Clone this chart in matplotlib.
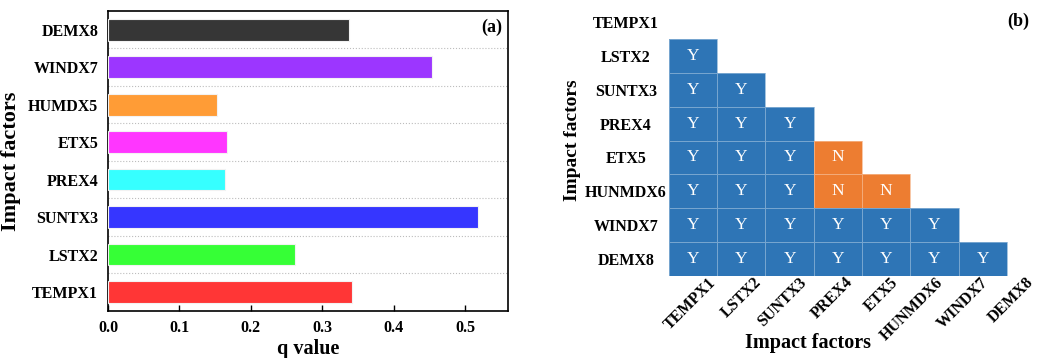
import matplotlib.pyplot as plt
import numpy as np
from matplotlib.colors import ListedColormap

plt.rcParams["font.family"] = ["Liberation Serif", "DejaVu Serif"]
plt.rcParams["font.weight"] = "bold"

# (a) q values of single factors, bottom to top
bar_labels = ["TEMPX1", "LSTX2", "SUNTX3", "PREX4", "ETX5", "HUMDX5", "WINDX7", "DEMX8"]
q_values = [0.341, 0.262, 0.518, 0.164, 0.167, 0.152, 0.453, 0.338]
bar_colors = ["#FF3636", "#36FF36", "#3636FF", "#36FFFF", "#FF36FF", "#FF9C36", "#9C36FF", "#363636"]

# (b) interaction significance, lower triangle (row factor vs column factor)
factors = ["TEMPX1", "LSTX2", "SUNTX3", "PREX4", "ETX5", "HUNMDX6", "WINDX7", "DEMX8"]
pairs = [
    [],
    ["Y"],
    ["Y", "Y"],
    ["Y", "Y", "Y"],
    ["Y", "Y", "Y", "N"],
    ["Y", "Y", "Y", "N", "N"],
    ["Y", "Y", "Y", "Y", "Y", "Y"],
    ["Y", "Y", "Y", "Y", "Y", "Y", "Y"],
]

fig = plt.figure(figsize=(10.38, 3.58), dpi=100)

# ---- panel (a)
ax = fig.add_axes([0.1040, 0.1321, 0.3854, 0.8372])
y = np.arange(len(bar_labels))
ax.barh(y, q_values, height=0.58, color=bar_colors, edgecolor="#f2f2f2", linewidth=0.8, zorder=3)
for k in range(len(bar_labels) - 1):
    ax.axhline(k + 0.5, color="#bdbdbd", linestyle=":", linewidth=0.8, zorder=1)
ax.set_xlim(0, 0.56)
ax.set_ylim(-0.5, 7.5)
ax.set_xticks([0.0, 0.1, 0.2, 0.3, 0.4, 0.5])
ax.set_xticklabels(["0.0", "0.1", "0.2", "0.3", "0.4", "0.5"])
ax.set_yticks(y)
ax.set_yticklabels(bar_labels)
ax.tick_params(axis="x", direction="in", length=4, width=1.0, labelsize=11.5, pad=7)
ax.tick_params(axis="y", length=0, labelsize=11.5, pad=7)
for s in ax.spines.values():
    s.set_linewidth(1.2)
ax.set_xlabel("q value", fontsize=14.5, fontweight="bold", labelpad=2)
ax.set_ylabel("Impact factors", fontsize=16, fontweight="bold", labelpad=5)
ax.text(0.985, 0.975, "(a)", transform=ax.transAxes, ha="right", va="top",
        fontsize=13, fontweight="bold")

# ---- panel (b)
n = len(factors)
grid = np.full((n, n), np.nan)
for i, row in enumerate(pairs):
    for j, v in enumerate(row):
        grid[i, j] = 1.0 if v == "Y" else 0.0

bx = fig.add_axes([0.6445, 0.2291, 0.3719, 0.7567])
cmap = ListedColormap(["#ED7D31", "#2E75B6"])
bx.pcolormesh(np.arange(n + 1) - 0.5, np.arange(n + 1) - 0.5, np.ma.masked_invalid(grid),
              cmap=cmap, vmin=0, vmax=1, edgecolors=(1, 1, 1, 0.35), linewidth=0.6)
for i, row in enumerate(pairs):
    for j, v in enumerate(row):
        bx.text(j, i, v, ha="center", va="center", color="white",
                fontsize=12.5, fontweight="normal")
bx.set_xlim(-0.5, n - 0.5)
bx.set_ylim(n - 0.5, -0.5)
for s in bx.spines.values():
    s.set_visible(False)
# rotated labels sit slightly tighter than the cells, as in the source figure
bx.set_xticks(0.43 + 0.94 * np.arange(n))
bx.set_yticks(np.arange(n))
bx.set_yticklabels(factors, ha="center")
bx.set_xticklabels(factors, rotation=45, ha="right", va="center", rotation_mode="anchor")
bx.tick_params(axis="both", length=0, labelsize=11.5)
bx.tick_params(axis="y", pad=31)
bx.tick_params(axis="x", pad=3)
bx.set_xlabel("Impact factors", fontsize=14.5, fontweight="bold")
bx.xaxis.set_label_coords(0.36, -0.21)
bx.set_ylabel("Impact factors", fontsize=14, fontweight="bold", labelpad=3)
fig.text(0.992, 0.94, "(b)", ha="right", va="center", fontsize=13, fontweight="bold")

fig.savefig("out.png", dpi=100)
